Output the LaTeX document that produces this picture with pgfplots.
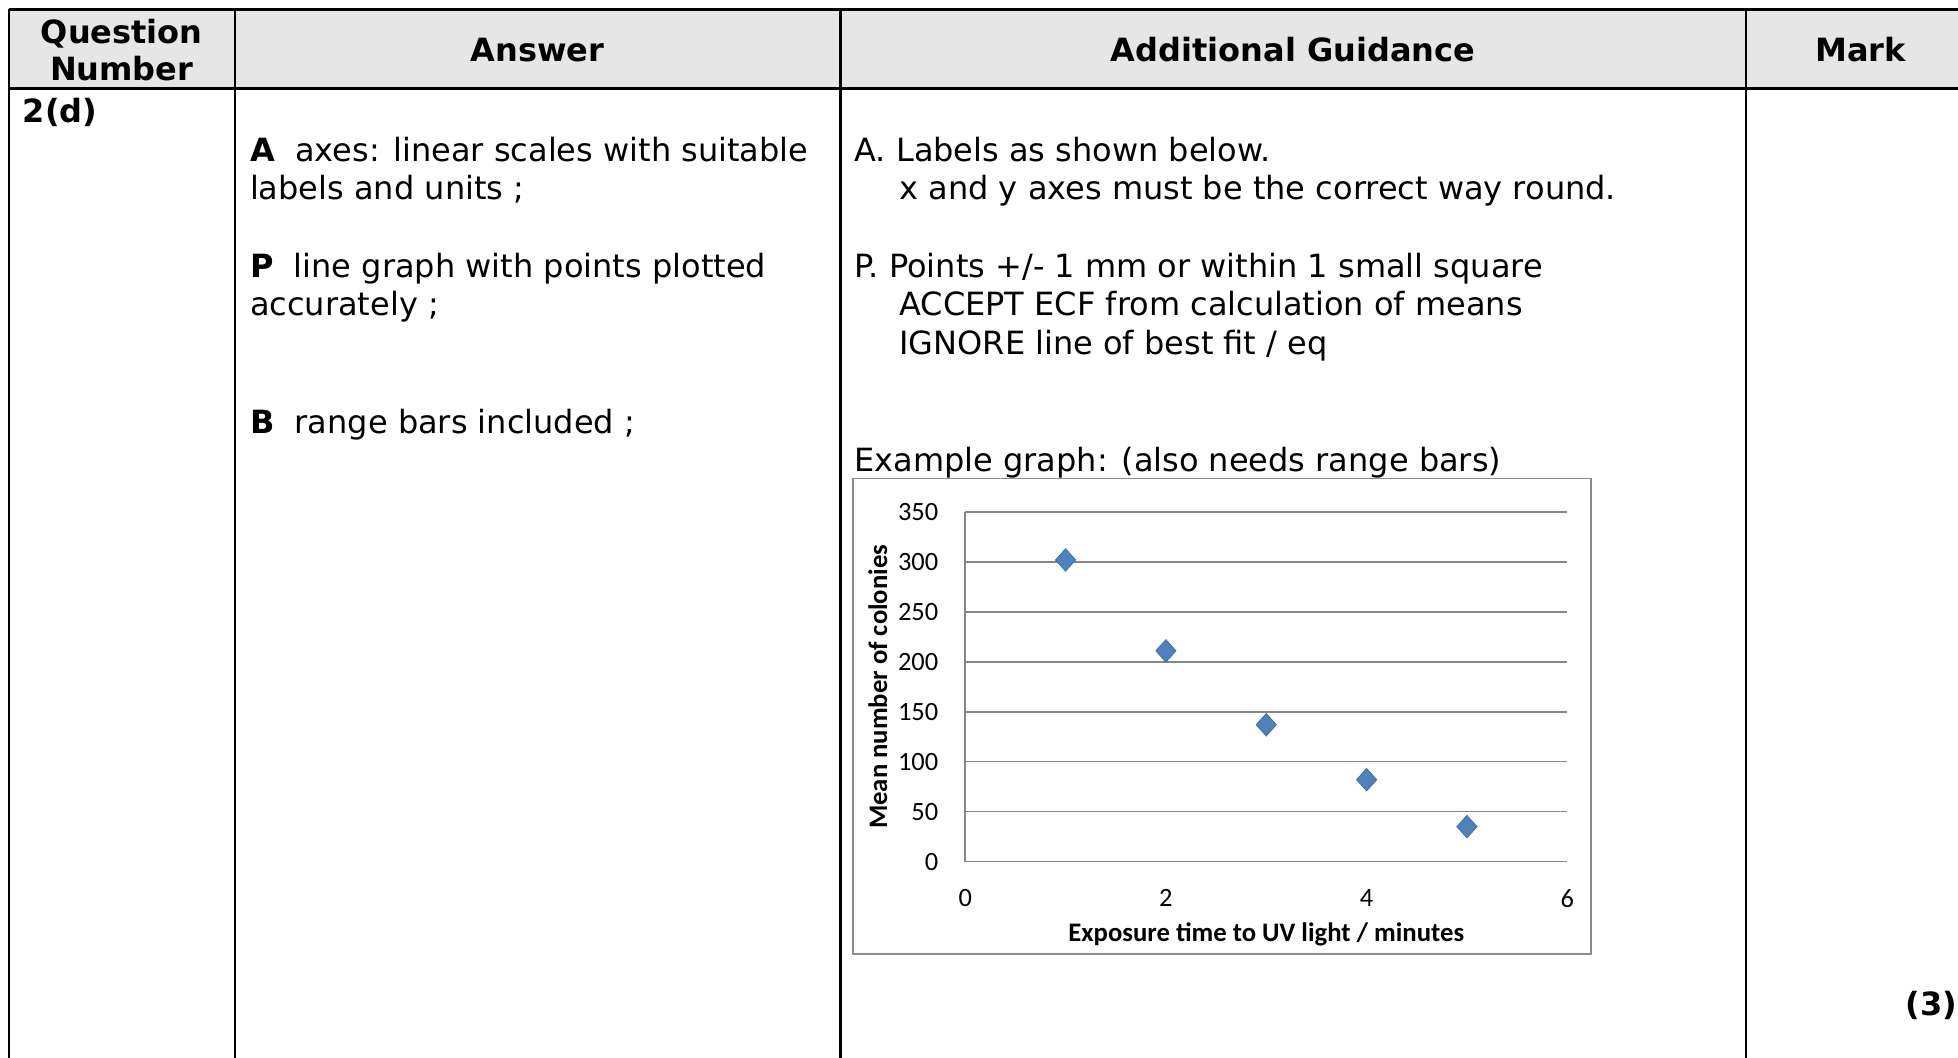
\documentclass[border=0pt]{standalone}
\usepackage{pgfplots}
\pgfplotsset{compat=1.18}
\usepackage{fontspec}
\setmainfont{DejaVu Sans}
\newfontfamily\carlito{Carlito}
\definecolor{hdr}{HTML}{E6E6E6}
\definecolor{gridc}{HTML}{868686}
\definecolor{framec}{HTML}{8C8C8C}
\definecolor{mk}{HTML}{4F81BD}
\definecolor{mkd}{HTML}{3F6FAD}
\begin{document}
\fontsize{16}{19.4}\selectfont
\begin{tikzpicture}
\path[use as bounding box] (0,0) rectangle (979pt,-529pt);
\clip (0,0) rectangle (979pt,-529pt);
\begin{scope}[x=0.5pt,y=-0.5pt]
\fill[white] (0,0) rectangle (1958,1058);
\fill[hdr] (8.7,10) rectangle (1975,88.7);
\draw[line width=1.5pt] (8.7,10) -- (1975,10);
\draw[line width=1.5pt] (8.7,88.7) -- (1975,88.7);
\foreach \x in {8.7,234.8,840.4,1745.7} \draw[line width=1.2pt] (\x,9.3) -- (\x,1075);
% header
\begin{scope}[every node/.style={inner sep=0pt, font=\bfseries}]
\node[anchor=base] at (121.7,43.5) {Question};
\node[anchor=base] at (121.7,81) {Number};
\node[anchor=base] at (537.6,62) {Answer};
\node[anchor=base] at (1293,62) {Additional Guidance};
\node[anchor=base] at (1860.6,62) {Mark};
\node[anchor=base west] at (22.5,122.6) {2(d)};
\node[anchor=base west] at (1905,1015) {(3)};
\end{scope}
\begin{scope}[every node/.style={inner sep=0pt, anchor=base west}]
\node at (249.7,161.3) {\textbf{A}\ \ axes: linear scales with suitable};
\node at (249.7,200) {labels and units ;};
\node at (249.7,277.5) {\textbf{P}\ \ line graph with points plotted};
\node at (249.7,316) {accurately ;};
\node at (249.7,433.5) {\textbf{B}\ \ range bars included ;};
\node at (854.1,161.3) {A. Labels as shown below.};
\node at (899,200) {x and y axes must be the correct way round.};
\node at (854.1,277.5) {P. Points +/- 1 mm or within 1 small square};
\node at (899,316) {ACCEPT ECF from calculation of means};
\node at (899,355) {IGNORE line of best fit / eq};
\node at (854.1,472) {Example graph: (also needs range bars)};
\end{scope}
\draw[framec, line width=0.75pt] (852.9,478.3) rectangle (1590.9,954);
\end{scope}
\begin{axis}[
  at={(482.6pt,-430.8pt)}, anchor=south west,
  scale only axis, width=301.05pt, height=174.8pt,
  xmin=0, xmax=6, ymin=0, ymax=350,
  xtick={0,2,4,6}, ytick={0,50,...,350},
  ymajorgrids, grid style={gridc, line width=0.75pt},
  axis x line=bottom, axis y line=left,
  axis line style={gridc, line width=0.75pt, -},
  major tick length=0pt,
  tick label style={font=\carlito\fontsize{13.2}{13.2}\selectfont},
  /pgf/number format/assume math mode=true,
  yticklabel style={xshift=-8pt},
  xticklabel style={yshift=-8.5pt},
  xlabel={Exposure time to UV light / minutes},
  ylabel={Mean number of colonies},
  label style={font=\carlito\bfseries\fontsize{13.35}{13.35}\selectfont},
  xlabel style={at={(axis description cs:0.5,-0.207)}, anchor=center},
  ylabel style={at={(axis description cs:-0.145,0.5)}, anchor=center},
  clip=false]
\addplot[only marks, mark=diamond*, mark size=5.6pt,
  mark options={fill=mk, draw=mkd, xscale=1.2, line width=0.4pt}]
  coordinates {(1,302) (2,211) (3,137) (4,82) (5,35)};
\end{axis}
\end{tikzpicture}
\end{document}
